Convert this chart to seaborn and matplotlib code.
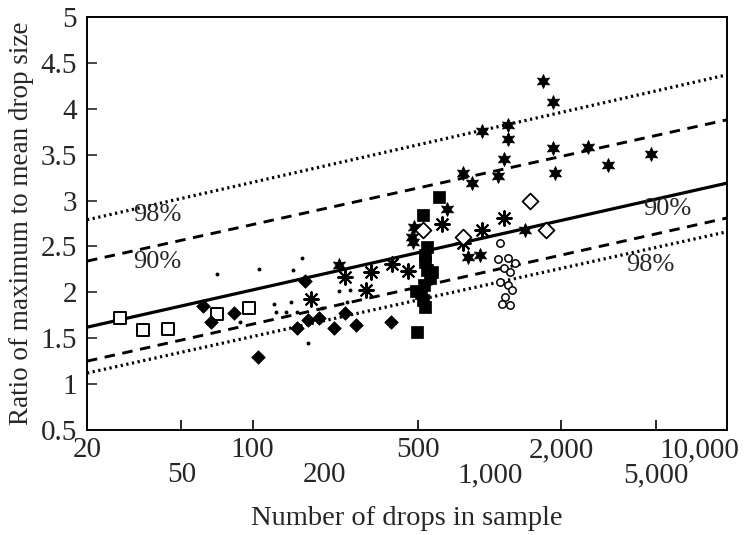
import matplotlib
matplotlib.use("Agg")
import matplotlib.pyplot as plt
import matplotlib.transforms as mtransforms
import seaborn as sns
from matplotlib.ticker import FixedLocator, FixedFormatter

sns.set_style("ticks")
plt.rcParams['font.family'] = ['Liberation Serif', 'DejaVu Serif']

# ---------------- data ----------------
line_n = [20, 10000]
mean_line = [1.62, 3.19]
upper90 = [2.34, 3.88]
upper98 = [2.79, 4.37]
lower90 = [1.25, 2.81]
lower98 = [1.12, 2.66]

open_sq_n = [27.6, 34.5, 43.9, 71.0, 96.5]
open_sq_r = [1.72, 1.59, 1.60, 1.76, 1.83]

fdiam_n = [61.7, 66.7, 83.4, 105, 166, 154, 171, 191, 220, 245, 273, 383]
fdiam_r = [1.85, 1.68, 1.77, 1.30, 2.12, 1.61, 1.70, 1.72, 1.61, 1.77, 1.64, 1.68]

dot_n = [71, 106, 148, 161, 123, 125, 88, 171, 230, 257, 145, 138, 154, 196, 250]
dot_r = [2.20, 2.25, 2.24, 2.37, 1.87, 1.79, 1.68, 1.45, 2.01, 2.03, 1.89, 1.79, 1.79, 1.83, 1.89]

ast_n = [176, 245, 301, 314, 387, 452, 626, 768, 924, 1144]
ast_r = [1.93, 2.17, 2.03, 2.22, 2.31, 2.23, 2.75, 2.54, 2.68, 2.81]

star_n = [1679, 1850, 924, 1195, 1195, 1144, 768, 842, 1085, 1850, 1887, 2600,
          3158, 4796, 660, 480, 470, 475, 810, 910, 1410, 230]
star_r = [4.30, 4.07, 3.76, 3.82, 3.67, 3.45, 3.30, 3.19, 3.27, 3.57, 3.30, 3.58,
          3.39, 3.51, 2.91, 2.71, 2.60, 2.55, 2.38, 2.41, 2.68, 2.30]

fsq_n = [608, 521, 544, 534, 534, 544, 560, 528, 510, 521, 534, 494, 489, 571]
fsq_r = [3.04, 2.84, 2.49, 2.41, 2.33, 2.24, 2.16, 2.08, 1.99, 1.92, 1.84, 1.57, 2.01, 2.22]

circ_n = [1106, 1085, 1195, 1279, 1144, 1218, 1106, 1195, 1242, 1161, 1127, 1218]
circ_r = [2.54, 2.36, 2.37, 2.32, 2.26, 2.22, 2.11, 2.08, 2.03, 1.95, 1.87, 1.86]

odiam_n = [1473, 1720, 521, 768]
odiam_r = [2.99, 2.68, 2.68, 2.60]

major_ticks = [20, 100, 500, 2000, 10000]
major_labels = ["20", "100", "500", "2,000", "10,000"]
minor_ticks = [50, 200, 1000, 5000]
minor_labels = ["50", "200", "1,000", "5,000"]
y_ticks = [0.5, 1, 1.5, 2, 2.5, 3, 3.5, 4, 4.5, 5]
y_labels = ["0.5", "1", "1.5", "2", "2.5", "3", "3.5", "4", "4.5", "5"]

# ---------------- figure ----------------
fig = plt.figure(figsize=(7.44, 5.35), dpi=100)
ax = fig.add_axes([87 / 744, 1 - 430 / 535, 640 / 744, 413 / 535])
ax.set_xscale("log")

sns.lineplot(x=line_n, y=mean_line, ax=ax, color="black", lw=2.3, zorder=2)
for ys in (upper90, lower90):
    sns.lineplot(x=line_n, y=ys, ax=ax, color="black", lw=2.1,
                 linestyle=(0, (3.6, 2.6)), zorder=2)
for ys in (upper98, lower98):
    sns.lineplot(x=line_n, y=ys, ax=ax, color="black", lw=2.3,
                 linestyle=(0, (0.7, 1.1)), zorder=2)

sns.scatterplot(x=dot_n, y=dot_r, ax=ax, marker="o", s=8, color="black",
                edgecolor="black", linewidth=0, zorder=3)
sns.scatterplot(x=open_sq_n, y=open_sq_r, ax=ax, marker="s", s=85, color="white",
                edgecolor="black", linewidth=1.4, zorder=4)
sns.scatterplot(x=fdiam_n, y=fdiam_r, ax=ax, marker="D", s=48, color="black",
                edgecolor="black", linewidth=0.5, zorder=4)
sns.scatterplot(x=ast_n, y=ast_r, ax=ax, marker=(8, 2, 0), s=110, color="black",
                linewidth=1.5, zorder=4)
sns.scatterplot(x=star_n, y=star_r, ax=ax, marker=(6, 1, 0), s=100, color="black",
                edgecolor="black", linewidth=0.6, zorder=4)
sns.scatterplot(x=fsq_n, y=fsq_r, ax=ax, marker="s", s=85, color="black",
                edgecolor="black", linewidth=0.5, zorder=4)
sns.scatterplot(x=circ_n, y=circ_r, ax=ax, marker="o", s=28, color="white",
                edgecolor="black", linewidth=1.1, zorder=4)
sns.scatterplot(x=odiam_n, y=odiam_r, ax=ax, marker="D", s=65, color="white",
                edgecolor="black", linewidth=1.3, zorder=4)

ax.set_xlim(20, 10000)
ax.set_ylim(0.5, 5)

ax.xaxis.set_major_locator(FixedLocator(major_ticks))
ax.xaxis.set_major_formatter(FixedFormatter(major_labels))
ax.xaxis.set_minor_locator(FixedLocator(minor_ticks))
ax.xaxis.set_minor_formatter(FixedFormatter(minor_labels))
ax.set_yticks(y_ticks)
ax.set_yticklabels(y_labels)

ax.tick_params(axis="x", which="major", direction="in", length=7, width=1.2,
               labelsize=21, pad=5, color="black")
ax.tick_params(axis="x", which="minor", direction="in", length=7, width=1.2,
               labelsize=21, pad=23, color="black")
ax.tick_params(axis="y", direction="in", length=7, width=1.2, labelsize=21, pad=7)

# hide tick marks that the original doesn't show
for t, v in zip(ax.xaxis.get_major_ticks(), major_ticks):
    if v in (20, 10000):
        t.tick1line.set_visible(False)
    if v == 10000:
        t.label1.set_transform(t.label1.get_transform() +
                               mtransforms.ScaledTranslation(-0.28, 0, fig.dpi_scale_trans))
for t, v in zip(ax.xaxis.get_minor_ticks(), minor_ticks):
    if v in (200, 1000):
        t.tick1line.set_visible(False)
for t, v in zip(ax.yaxis.get_major_ticks(), y_ticks):
    if v in (0.5, 5):
        t.tick1line.set_visible(False)

for sp in ax.spines.values():
    sp.set_visible(True)
    sp.set_linewidth(1.4)
    sp.set_color("black")

ax.set_xlabel("Number of drops in sample", fontsize=20.5, labelpad=13)
ax.set_ylabel("Ratio of maximum to mean drop size", fontsize=19.5, labelpad=5)

ax.text(39.5, 2.84, "98%", fontsize=19, ha="center", va="center", zorder=5)
ax.text(39.5, 2.33, "90%", fontsize=19, ha="center", va="center", zorder=5)
ax.text(5600, 2.91, "90%", fontsize=19, ha="center", va="center", zorder=5)
ax.text(4750, 2.30, "98%", fontsize=19, ha="center", va="center", zorder=5)

fig.savefig("out.png", dpi=100)
